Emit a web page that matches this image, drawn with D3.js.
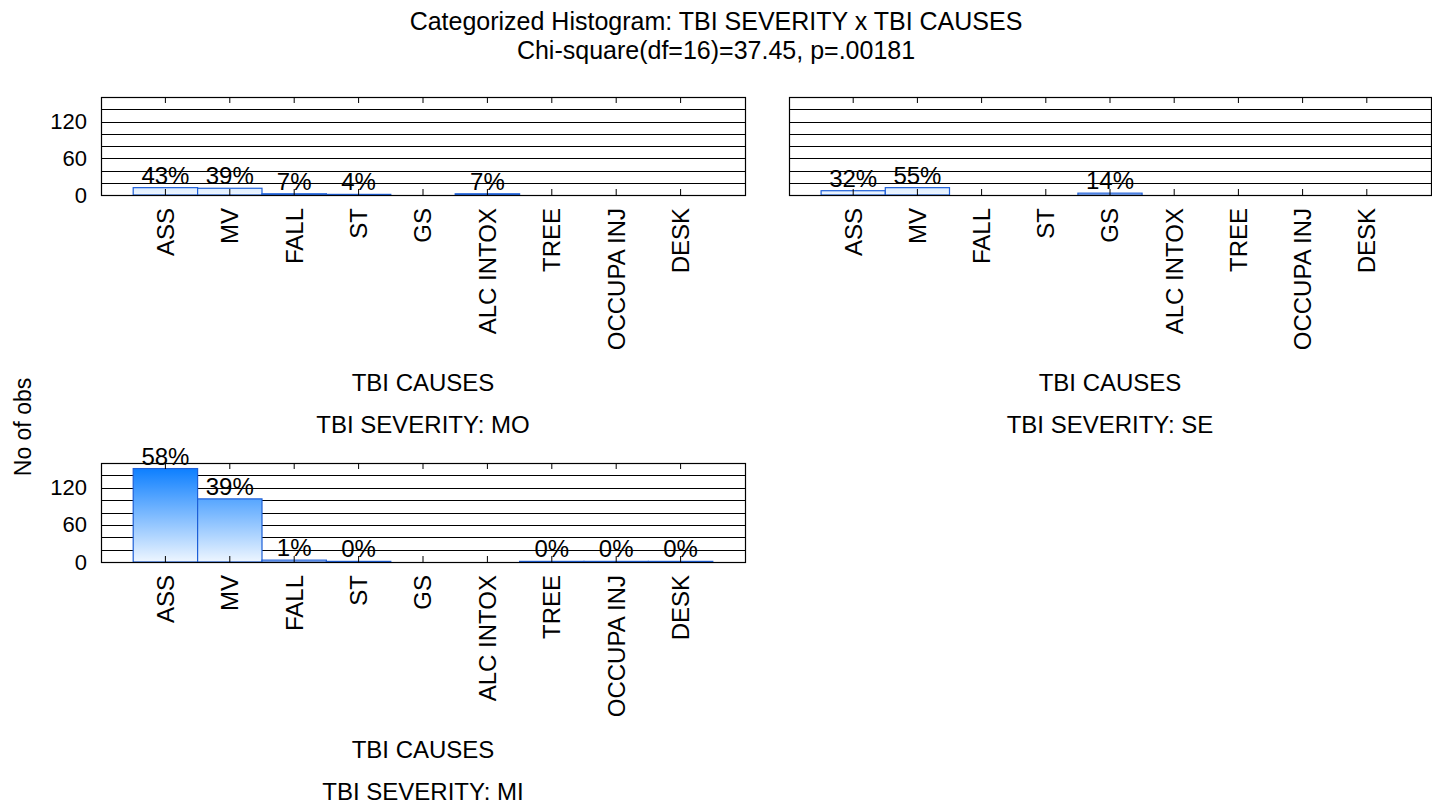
<!DOCTYPE html>
<html>
<head>
<meta charset="utf-8">
<script src="https://cdn.jsdelivr.net/npm/d3@7"></script>
<style>
  html, body { margin: 0; padding: 0; background: #fff; }
  svg { display: block; font-family: "Liberation Sans", Arial, sans-serif; }
</style>
</head>
<body>
<div id="chart"></div>
<script>
const causes = ["ASS", "MV", "FALL", "ST", "GS", "ALC INTOX", "TREE", "OCCUPA INJ", "DESK"];
const severities = ["MO", "SE", "MI"];
const countsMO = [12, 11, 2, 1, 0, 2, 0, 0, 0];
const countsSE = [7, 12, 0, 0, 3, 0, 0, 0, 0];
const countsMI = [151, 102, 3, 1, 0, 0, 1, 1, 1];
const yTicks = [0, 60, 120];
const yMax = 160;
const titleLines = ["Categorized Histogram: TBI SEVERITY x TBI CAUSES", "Chi-square(df=16)=37.45, p=.00181"];

const W = 1432, H = 807;
const fontSize = 24;

// panel boxes (layout)
const panels = [
  { sev: "MO", counts: countsMO, x0: 101, x1: 745, y0: 97, y1: 195, yLabels: true },
  { sev: "SE", counts: countsSE, x0: 789, x1: 1431, y0: 97, y1: 195, yLabels: false },
  { sev: "MI", counts: countsMI, x0: 101, x1: 745, y0: 463, y1: 562, yLabels: true }
];

const svg = d3.select("#chart").append("svg")
  .attr("width", W)
  .attr("height", H);

svg.append("rect").attr("width", W).attr("height", H).attr("fill", "#fff");

// title
svg.selectAll("text.title")
  .data(titleLines)
  .enter()
  .append("text")
  .attr("class", "title")
  .attr("x", W / 2)
  .attr("y", (d, i) => 30 + 29 * i)
  .attr("text-anchor", "middle")
  .style("font-size", "25px")
  .text(d => d);

// y axis title
svg.append("text")
  .attr("transform", "translate(31,427) rotate(-90)")
  .attr("text-anchor", "middle")
  .style("font-size", "23px")
  .text("No of obs");

const defs = svg.append("defs");

panels.forEach((p, pi) => {
  const x = d3.scaleBand()
    .domain(causes)
    .range([p.x0, p.x1])
    .paddingInner(0)
    .paddingOuter(0.5);

  const y = d3.scaleLinear()
    .domain([0, yMax])
    .range([p.y1, p.y0]);

  const total = d3.sum(p.counts);
  const g = svg.append("g");

  // gradient over the plot height
  const gid = "grad" + pi;
  const grad = defs.append("linearGradient")
    .attr("id", gid)
    .attr("gradientUnits", "userSpaceOnUse")
    .attr("x1", 0).attr("x2", 0)
    .attr("y1", y(yMax)).attr("y2", y(0));
  grad.append("stop").attr("offset", "0%").attr("stop-color", "#0078ff");
  grad.append("stop").attr("offset", "100%").attr("stop-color", "#eef6ff");

  // gridlines
  g.append("g")
    .attr("transform", `translate(${p.x0},0)`)
    .call(d3.axisLeft(y).tickValues(d3.range(20, yMax, 20)).tickSize(-(p.x1 - p.x0)).tickFormat(""))
    .call(a => a.select(".domain").remove())
    .call(a => a.selectAll("line").attr("stroke", "#000").attr("shape-rendering", "crispEdges"));

  // bars
  const rows = causes.map((c, i) => ({ cause: c, n: p.counts[i] }));
  g.selectAll("rect.bar")
    .data(rows.filter(d => d.n > 0))
    .enter()
    .append("rect")
    .attr("class", "bar")
    .attr("x", d => x(d.cause))
    .attr("width", x.bandwidth())
    .attr("y", d => y(d.n))
    .attr("height", d => y(0) - y(d.n))
    .attr("fill", `url(#${gid})`)
    .attr("stroke", "#1d5fd8")
    .attr("stroke-width", 1.2);

  // frame
  g.append("rect")
    .attr("x", p.x0 + 0.5)
    .attr("y", p.y0 + 0.5)
    .attr("width", p.x1 - p.x0)
    .attr("height", p.y1 - p.y0)
    .attr("fill", "none")
    .attr("stroke", "#000")
    .attr("stroke-width", 1.2);

  // inward ticks top and bottom
  g.append("g")
    .attr("transform", `translate(0,${p.y1})`)
    .call(d3.axisBottom(x).tickSize(-6).tickFormat(""))
    .call(a => a.select(".domain").remove())
    .call(a => a.selectAll("line").attr("stroke", "#000"));
  g.append("g")
    .attr("transform", `translate(0,${p.y0})`)
    .call(d3.axisTop(x).tickSize(-6).tickFormat(""))
    .call(a => a.select(".domain").remove())
    .call(a => a.selectAll("line").attr("stroke", "#000"));

  // y tick labels
  if (p.yLabels) {
    g.append("g")
      .attr("transform", `translate(${p.x0 - 14},0)`)
      .call(d3.axisLeft(y).tickValues(yTicks).tickSize(0).tickPadding(0))
      .call(a => a.select(".domain").remove())
      .call(a => a.selectAll("text")
        .attr("fill", "#000")
        .style("font-size", "22px")
        .style("font-family", "'Liberation Sans', Arial, sans-serif"));
  }

  // percent labels
  g.selectAll("text.pct")
    .data(rows.filter(d => d.n > 0))
    .enter()
    .append("text")
    .attr("class", "pct")
    .attr("x", d => x(d.cause) + x.bandwidth() / 2)
    .attr("y", d => y(d.n) - 4)
    .attr("text-anchor", "middle")
    .style("font-size", fontSize + "px")
    .text(d => Math.round(100 * d.n / total) + "%");

  // category labels
  g.selectAll("text.cat")
    .data(causes)
    .enter()
    .append("text")
    .attr("class", "cat")
    .attr("transform", d => `translate(${x(d) + x.bandwidth() / 2},${p.y1 + 13}) rotate(-90)`)
    .attr("dy", "0.35em")
    .attr("text-anchor", "end")
    .style("font-size", fontSize + "px")
    .text(d => d);

  const cx = (p.x0 + p.x1) / 2;
  g.append("text")
    .attr("x", cx)
    .attr("y", p.y1 + 196)
    .attr("text-anchor", "middle")
    .style("font-size", fontSize + "px")
    .text("TBI CAUSES");
  g.append("text")
    .attr("x", cx)
    .attr("y", p.y1 + 238)
    .attr("text-anchor", "middle")
    .style("font-size", fontSize + "px")
    .text("TBI SEVERITY: " + p.sev);
});
</script>
</body>
</html>
